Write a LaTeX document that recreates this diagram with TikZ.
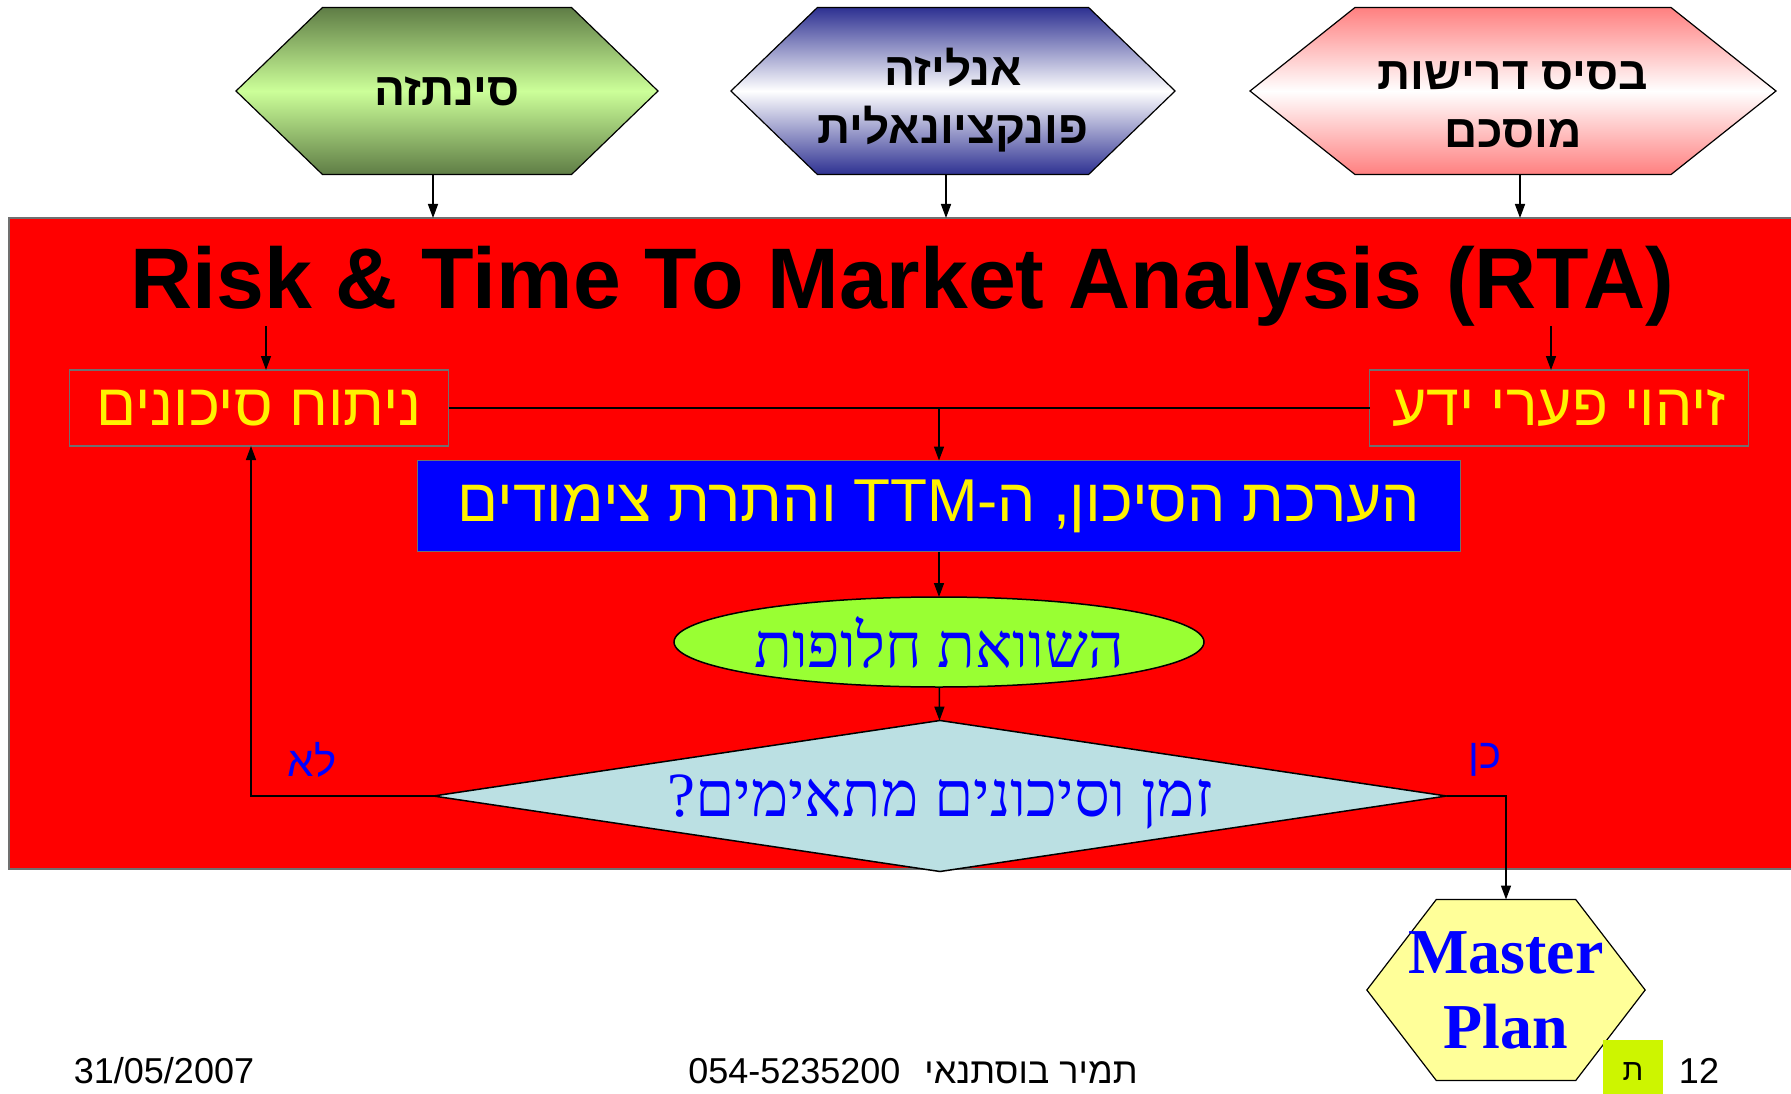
\documentclass[tikz,border=0pt]{standalone}
\usepackage{fontspec}
\setmainfont{Liberation Sans}
\newfontfamily\hebsans[Script=Hebrew]{Liberation Sans}
\newfontfamily\hebserif[Script=Hebrew]{Liberation Serif}
\newfontfamily\romanfont{Liberation Serif}
\TeXXeTstate=1
\usetikzlibrary{shapes.geometric,shapes.symbols,arrows.meta}
\definecolor{olivedark}{RGB}{95,125,70}
\definecolor{olivelight}{RGB}{204,255,153}
\definecolor{navydark}{RGB}{46,49,146}
\definecolor{rosedark}{RGB}{255,128,128}
\definecolor{framegray}{RGB}{112,112,112}
\definecolor{limefill}{RGB}{153,255,51}
\definecolor{icefill}{RGB}{187,224,227}
\definecolor{creamfill}{RGB}{255,255,153}
\definecolor{tabfill}{RGB}{205,245,0}
\tikzset{
    every node/.style={inner sep=0pt, outer sep=0pt}
}
\tikzset{
    hexa/.style={signal, signal to=west and east, draw, line width=1.2pt,
    	minimum height=167, align=center,
    	font=\hebsans\bfseries\fontsize{46}{58}\selectfont},
    redbox/.style={draw=framegray, line width=1.5pt, fill=red, text=yellow,
    	minimum width=379, minimum height=76,
    	font=\hebsans\fontsize{59}{60}\selectfont},
    answer/.style={text=blue, font=\hebsans\fontsize{42}{44}\selectfont},
    footer/.style={anchor=base, font=\fontsize{36}{40}\selectfont},
    arr/.style={-{Triangle[length=14pt,width=10pt]}, line width=1.5pt}
}

\begin{document}
\begin{tikzpicture}[x=1pt,y=-1pt]
	\useasboundingbox (0,0) rectangle (1791,1094);
	\node (panel) [fill=red, draw=framegray, line width=1.5pt, anchor=north west,
		minimum width=1800, minimum height=651] at (9,218) {};
	
	\node (synth) [hexa, minimum width=422, signal pointer angle=88,
		top color=olivedark, bottom color=olivedark, middle color=olivelight]
		at (447,91) {\beginR סינתזה\endR};
	\node (analysis) [hexa, minimum width=436, signal pointer angle=88,
		top color=navydark, bottom color=navydark, middle color=white]
		at (953,91) {\rule{0pt}{56pt}\beginR אנליזה\endR\\\beginR פונקציונאלית\endR};
	\node (base) [hexa, minimum width=526, signal pointer angle=77,
		top color=rosedark, bottom color=rosedark, middle color=white]
		at (1513,91) {\rule{0pt}{56pt}\beginR בסיס דרישות\endR\\\beginR מוסכם\endR};
	
	\node (title) [anchor=base, font=\bfseries\fontsize{86}{90}\selectfont]
		at (902,308) {Risk \& Time To Market Analysis (RTA)};
	\node (risk) [redbox] at (259,408) {\beginR ניתוח סיכונים\endR};
	\node (gap) [redbox] at (1559,408) {\beginR זיהוי פערי ידע\endR};
	\node (eval) [fill=blue, draw=framegray, line width=1.5pt, text=yellow,
		minimum width=1043, minimum height=91,
		font=\hebsans\fontsize{60.5}{62}\selectfont]
		at (939,506) {\beginR הערכת הסיכון, ה-\beginL TTM\endL{} והתרת צימודים\endR};
	\node (compare) [ellipse, draw, line width=1.5pt, fill=limefill,
		minimum width=530, minimum height=90, text=blue,
		font=\hebserif\fontsize{62}{64}\selectfont]
		at (939,642) {\beginR השוואת חלופות\endR};
	\node (fit) [diamond, aspect=6.7, draw, line width=1.5pt, fill=icefill,
		minimum width=1013, minimum height=151, text=blue, text depth=0pt,
		font=\hebserif\fontsize{63}{65}\selectfont]
		at (940,796) {\beginR זמן וסיכונים מתאימים?\endR};
	\node (no) [answer] at (312,760) {\beginR לא\endR};
	\node (yes) [answer] at (1485,760) {\beginR כן\endR};
	\node (master) [signal, signal to=west and east, signal pointer angle=105,
		draw, line width=1.2pt, fill=creamfill, inner xsep=-28pt,
		minimum width=273, minimum height=181, align=center, text=blue,
		font=\romanfont\bfseries\fontsize{64}{75}\selectfont]
		at (1506,990) {Master\\Plan};
	
	\node (date) [footer] at (164,1083) {31/05/2007};
	\node (author) [footer]
		at (913,1083) {054-5235200\hspace{24pt}{\hebsans\beginR תמיר בוסתנאי\endR}};
	\node (tab) [fill=tabfill, minimum width=60, minimum height=54,
		text height=26pt, text depth=0pt,
		font=\hebsans\fontsize{30}{32}\selectfont] at (1633,1067) {\beginR ת\endR};
	\node (page) [footer] at (1699,1083) {12};
	
	\draw ([xshift=-14]synth.south) edge [arr] ([xshift=-14]synth.south |- panel.north);
	\draw ([xshift=-7]analysis.south) edge [arr] ([xshift=-7]analysis.south |- panel.north);
	\draw ([xshift=7]base.south) edge [arr] ([xshift=7]base.south |- panel.north);
	\draw ([xshift=7]title.south -| risk) edge [arr] ([xshift=7]risk.north);
	\draw ([xshift=-8]title.south -| gap) edge [arr] ([xshift=-8]gap.north);
	\draw (risk) edge [line width=1.5pt] (gap);
	\draw (risk.east -| eval) edge [arr] (eval);
	\draw (eval) edge [arr] (compare);
	\draw (compare) edge [arr] (fit);
	\draw [arr] (fit.west) -| ([xshift=-8]risk.south);
	\draw [arr] (fit.east) -| (master.north);
\end{tikzpicture}
\end{document}
